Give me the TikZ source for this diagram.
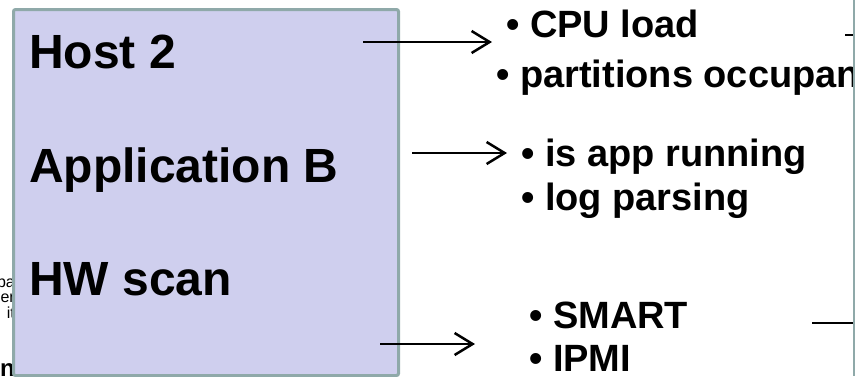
\documentclass[tikz,border=0pt]{standalone}
\usepackage{fontspec}
\setmainfont{Liberation Sans}
\usetikzlibrary{arrows.meta}
\definecolor{hostfill}{HTML}{CFCFEE}
\definecolor{hostrim}{HTML}{8FA9A9}
\newcommand{\feed}[2]{\draw[feed] (#1) -- (#2);}

\begin{document}
\begin{tikzpicture}[x=1pt,y=-1pt,
    big/.style={anchor=base west,inner sep=0pt,font=\fontsize{48}{50}\selectfont\bfseries},
    item/.style={anchor=base west,inner sep=0pt,font=\fontsize{38}{40}\selectfont\bfseries},
    frag/.style={anchor=base east,inner sep=0pt,font=\fontsize{16}{17}\selectfont},
    feed/.style={line width=2.5pt,-{Straight Barb[length=18pt,width=22pt]}}]
  \useasboundingbox (0,0) rectangle (855,376);

  % bits of text behind the box
  \node[frag] (f1) at (15,287) {pa};
  \node[frag] (f2) at (15,302) {er};
  \node[frag] (f3) at (15,318) {it};
  \node[frag,font=\fontsize{24}{25}\selectfont\bfseries] (f4) at (15,376) {n};

  \node[draw=hostrim,fill=hostfill,line width=3pt,rounded corners=2pt,
        minimum width=385pt,minimum height=366pt,anchor=north west] (box) at (12,8) {};

  \node[big] (host) at (29,68) {Host 2};
  \node[big] (app) at (29,182) {Application B};
  \node[big] (hw) at (29,295) {HW scan};

  \node[item] (cpu) at (506,37) {• CPU load};
  \begin{scope}
    \clip (0,0) rectangle (853,376);
    \node[item] (part) at (496,87) {• partitions occupan};
  \end{scope}
  \node[item] (run) at (521,166) {• is app running};
  \node[item] (log) at (521,210) {• log parsing};
  \node[item] (smart) at (529,328) {• SMART};
  \node[item] (ipmi) at (529,371) {• IPMI};

  \coordinate (hostout) at (363,42);
  \coordinate (hostin) at (492,42);
  \coordinate (appout) at (412,153);
  \coordinate (appin) at (507,153);
  \coordinate (hwout) at (380,344);
  \coordinate (hwin) at (475,344);
  \feed{hostout}{hostin}
  \feed{appout}{appin}
  \feed{hwout}{hwin}

  % edge of the next box
  \draw[hostrim,line width=1.5pt] (854,0) -- (854,376);
  \draw[line width=2pt] (845,35) -- (853,35);
  \draw[line width=2pt] (812,323) -- (853,323);
\end{tikzpicture}
\end{document}
